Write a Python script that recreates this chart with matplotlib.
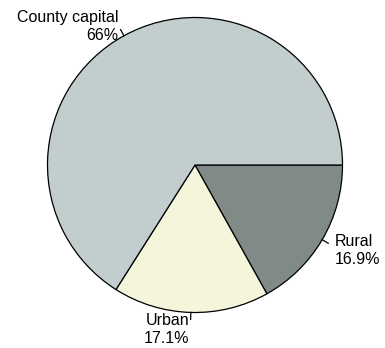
import numpy as np
import matplotlib.pyplot as plt

labels = ["Rural", "Urban", "County capital"]
shares = [16.9, 17.1, 66.0]
pct_text = ["16.9%", "17.1%", "66%"]
colors = ["#808b88", "#f5f5dc", "#c2cece"]

W, H = 385, 348
cx, cy, r = 195, H - 165, 147.5

fig = plt.figure(figsize=(W / 100, H / 100), dpi=100)
ax = fig.add_axes([0, 0, 1, 1])

wedges, _ = ax.pie(
    shares,
    colors=colors,
    startangle=0,
    counterclock=False,
    center=(cx, cy),
    radius=r,
    wedgeprops=dict(edgecolor="black", linewidth=0.9),
)
ax.set_xlim(0, W)
ax.set_ylim(0, H)
ax.set_aspect("equal")
ax.axis("off")

font = dict(family="Liberation Sans", fontsize=11.5)

# short leader ticks and labels at each wedge's middle angle
offsets = {
    "Rural": (7, -7, "left"),
    "Urban": (-1, -10, "right"),
    "County capital": (-2, 3, "right"),
}
for w, lab, pt in zip(wedges, labels, pct_text):
    ang = np.deg2rad((w.theta1 + w.theta2) / 2)
    x0, y0 = cx + r * np.cos(ang), cy + r * np.sin(ang)
    x1, y1 = cx + (r + 7) * np.cos(ang), cy + (r + 7) * np.sin(ang)
    ax.plot([x0, x1], [y0, y1], color="black", lw=0.9)
    dx, dy, ha = offsets[lab]
    ax.text(x1 + dx, y1 + dy, f"{lab}\n{pt}", ha=ha, va="center",
            multialignment=ha, linespacing=1.25, **font)

fig.savefig("out.png", dpi=100)
